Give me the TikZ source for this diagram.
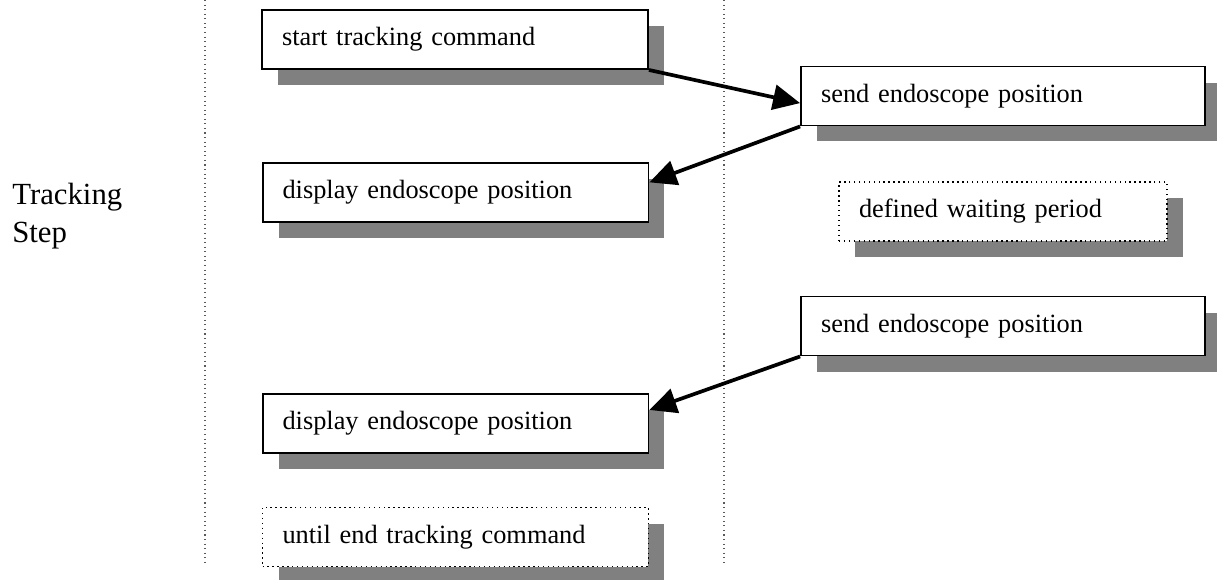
\documentclass[tikz,border=0pt]{standalone}
\usepackage{fontspec}
\setmainfont{Liberation Serif}
\usepackage{xcolor}
\usepackage{tikz}
\usetikzlibrary{arrows.meta,shadows}
\definecolor{shadowgray}{RGB}{128,128,128}
\definecolor{lanegray}{RGB}{90,90,90}
\tikzstyle{msg}=[rectangle, draw=black, line width=1.1pt, fill=white,
  inner xsep=0.4cm, inner ysep=0pt, text width=6.92cm, align=left,
  minimum height=1.18cm, font=\fontsize{15}{18}\selectfont,
  drop shadow={shadow xshift=0.32cm, shadow yshift=-0.32cm, fill=shadowgray, opacity=1}]
\tikzstyle{pause}=[msg, draw=black, line width=0.8pt, dotted]
\tikzstyle{arrow}=[-{Triangle[length=0.54cm, width=0.5cm]}, line width=2.1pt, black]
\tikzstyle{lane}=[draw=lanegray, line width=0.6pt, dotted]

\begin{document}
\begin{tikzpicture}[x=0.02cm, y=-0.02cm]

    \useasboundingbox (0,0) rectangle (1217,579);

    % lane separators
    \draw[lane] (205,0) -- (205,566);
    \draw[lane] (724,0) -- (724,566);

    % phase label
    \node[anchor=west, align=left, inner sep=0pt, font=\fontsize{17.5}{22}\selectfont]
      (phase) at (12,216) {Tracking\\Step};

    % left lane
    \node[msg] (start) at (455,39.5) {start tracking command};
    \node[msg] (disp1) at (455.5,192.5) {display endoscope position};
    \node[msg] (disp2) at (455.5,423.5) {display endoscope position};
    \node[pause] (until) at (455.5,537) {until end tracking command};

    % right lane
    \node[msg, text width=7.28cm] (send1) at (1003,96) {send endoscope position};
    \node[pause, text width=5.76cm] (wait) at (1003,211.5) {defined waiting period};
    \node[msg, text width=7.28cm] (send2) at (1003,326) {send endoscope position};

    \draw[arrow] (start.south east) -- (send1.182);
    \draw[arrow] (send1.south west) -- (disp1.3);
    \draw[arrow] (send2.south west) -- (disp2.4);

  \end{tikzpicture}
\end{document}
